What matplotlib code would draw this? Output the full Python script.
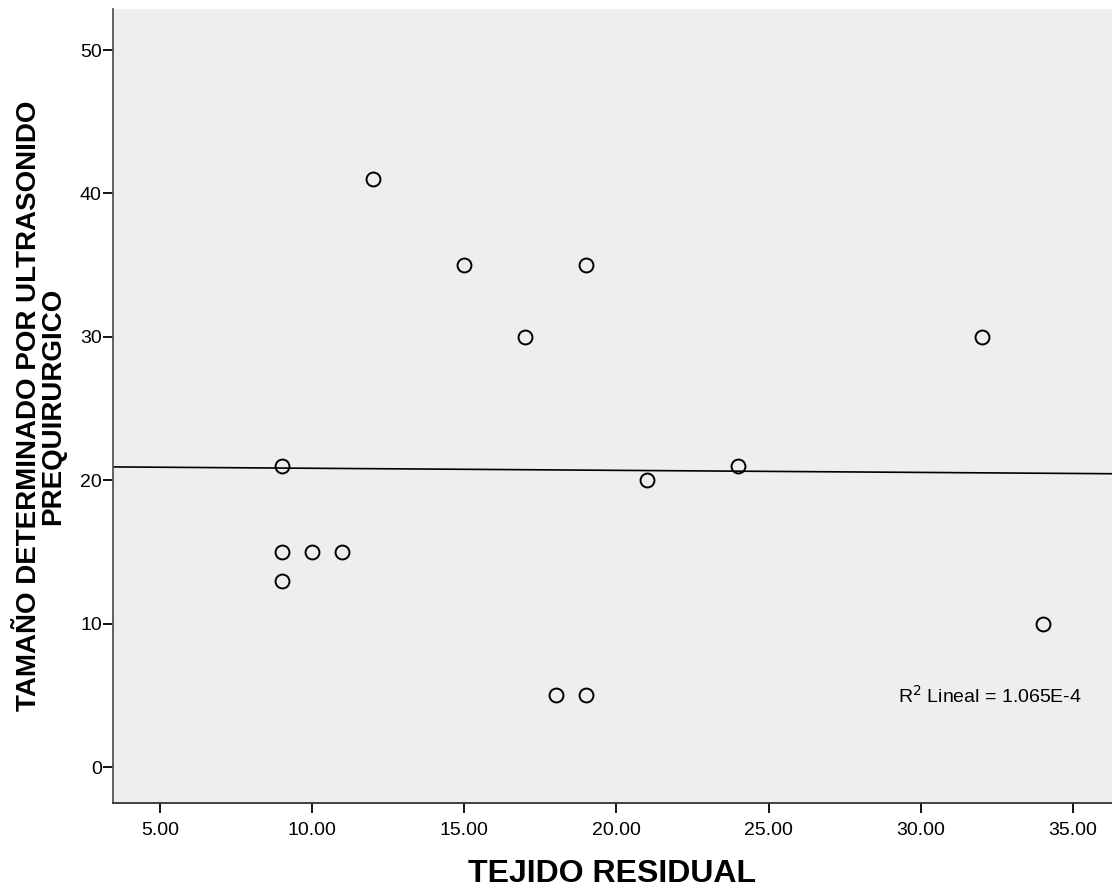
import numpy as np
import matplotlib.pyplot as plt

plt.rcParams['font.family'] = ['Liberation Sans', 'DejaVu Sans']

# tejido residual vs tamaño por ultrasonido
tejido = [9, 9, 9, 10, 11, 12, 15, 17, 18, 19, 19, 21, 24, 32, 34]
tamano = [21, 15, 13, 15, 15, 41, 35, 30, 5, 5, 35, 20, 21, 30, 10]
xticks = [5, 10, 15, 20, 25, 30, 35]
yticks = [0, 10, 20, 30, 40, 50]
r2_text = "R$^2$ Lineal = 1.065E-4"

fig = plt.figure(figsize=(11.12, 8.93), dpi=100)
ax = fig.add_axes([0.1016, 0.1008, 0.8984, 0.8891])
ax.set_facecolor('#eeeeee')

ax.plot(tejido, tamano, 'o', markersize=10, markerfacecolor='none',
        markeredgecolor='black', markeredgewidth=1.4)

# recta de regresion
xlim = (3.46, 36.28)
m, b = np.polyfit(tejido, tamano, 1)
xs = np.array(xlim)
ax.plot(xs, m * xs + b, color='black', linewidth=1.2)

ax.set_xlim(xlim)
ax.set_ylim(-2.5, 52.86)
ax.set_xticks(xticks)
ax.set_xticklabels(["%.2f" % v for v in xticks])
ax.set_yticks(yticks)
ax.tick_params(labelsize=14, length=7, width=1.3, color='black')
ax.tick_params(axis='x', pad=7)
ax.tick_params(axis='y', pad=1)

for s in ['top', 'right']:
    ax.spines[s].set_visible(False)
ax.spines['left'].set_color('#555555')
ax.spines['bottom'].set_color('#333333')
ax.spines['left'].set_linewidth(1.3)
ax.spines['bottom'].set_linewidth(1.3)

ax.text(29.25, 5.0, r2_text, fontsize=14, ha='left', va='center')

ax.set_xlabel("TEJIDO RESIDUAL", fontsize=23, fontweight='bold', labelpad=14)
ax.set_ylabel("TAMAÑO DETERMINADO POR ULTRASONIDO\nPREQUIRURGICO", fontsize=20,
              fontweight='bold', labelpad=10, linespacing=0.9)

fig.savefig("out.png", dpi=100)
